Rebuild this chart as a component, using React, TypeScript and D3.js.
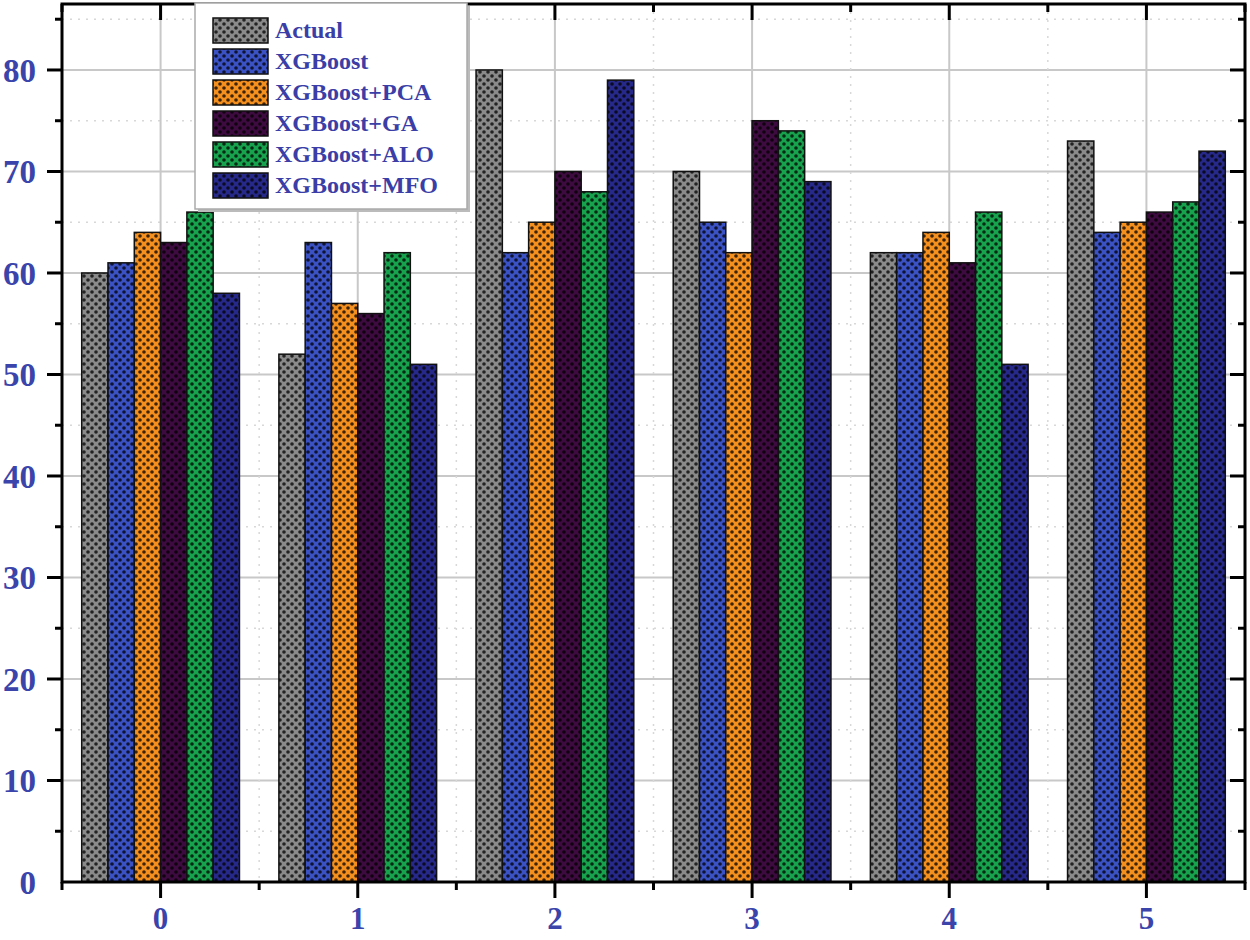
import React, { useEffect, useRef } from "react"
import * as d3 from "d3"

const categories = ["0", "1", "2", "3", "4", "5"]
const seriesNames = ["Actual", "XGBoost", "XGBoost+PCA", "XGBoost+GA", "XGBoost+ALO", "XGBoost+MFO"]
const actual = [60, 52, 80, 70, 62, 73]
const xgboost = [61, 63, 62, 65, 62, 64]
const xgbPca = [64, 57, 65, 62, 64, 65]
const xgbGa = [63, 56, 70, 75, 61, 66]
const xgbAlo = [66, 62, 68, 74, 66, 67]
const xgbMfo = [58, 51, 79, 69, 51, 72]
const seriesValues = [actual, xgboost, xgbPca, xgbGa, xgbAlo, xgbMfo]
const colors = ["#8a8a8a", "#3b52c4", "#f5901f", "#3d0b3f", "#17a24d", "#27298a"]
const yTicks = [0, 10, 20, 30, 40, 50, 60, 70, 80]

const App: React.FC = () => {
	const ref = useRef<SVGSVGElement>(null)
	const width = 1250
	const height = 940
	const margin = { top: 4, right: 5, bottom: 58, left: 62 }

	useEffect(() => {
		const svg = d3.select(ref.current)
		svg.selectAll("*").remove()

		const left = margin.left
		const right = width - margin.right
		const top = margin.top
		const bottom = height - margin.bottom

		const x = d3.scaleLinear().domain([-0.5, 5.5]).range([left, right])
		const y = d3.scaleLinear().domain([0, 86.5]).range([bottom, top])
		const inner = d3
			.scaleBand()
			.domain(seriesNames)
			.range([-0.4, 0.4])

		const defs = svg.append("defs")
		colors.forEach((c, i) => {
			const p = defs
				.append("pattern")
				.attr("id", "pat" + i)
				.attr("width", 8)
				.attr("height", 8)
				.attr("patternUnits", "userSpaceOnUse")
			p.append("rect").attr("width", 8).attr("height", 8).attr("fill", c)
			;[[0, 0], [8, 0], [0, 8], [8, 8], [4, 4]].forEach(([cx, cy]) => {
				p.append("circle").attr("cx", cx).attr("cy", cy).attr("r", 1.8)
					.attr("fill", "#000").attr("opacity", 0.75)
			})
		})

		// grid
		const g = svg.append("g")
		d3.range(5, 86, 10).forEach((v) => {
			g.append("line")
				.attr("x1", left).attr("x2", right)
				.attr("y1", y(v)).attr("y2", y(v))
				.attr("stroke", "#d8d8d8").attr("stroke-width", 1.5)
				.attr("stroke-dasharray", "2,6")
		})
		yTicks.slice(1).forEach((v) => {
			g.append("line")
				.attr("x1", left).attr("x2", right)
				.attr("y1", y(v)).attr("y2", y(v))
				.attr("stroke", "#c8c8c8").attr("stroke-width", 2)
		})
		categories.forEach((c, i) => {
			g.append("line")
				.attr("x1", x(i)).attr("x2", x(i))
				.attr("y1", top).attr("y2", bottom)
				.attr("stroke", "#c8c8c8").attr("stroke-width", 2)
			if (i < categories.length - 1) {
				g.append("line")
					.attr("x1", x(i + 0.5)).attr("x2", x(i + 0.5))
					.attr("y1", top).attr("y2", bottom)
					.attr("stroke", "#d8d8d8").attr("stroke-width", 1.5)
					.attr("stroke-dasharray", "2,6")
			}
		})

		// bars
		seriesValues.forEach((vals, s) => {
			svg.append("g")
				.selectAll("rect")
				.data(vals)
				.join("rect")
				.attr("x", (d, i) => x(i + (inner(seriesNames[s]) as number)))
				.attr("width", x(inner.bandwidth()) - x(0))
				.attr("y", (d) => y(d))
				.attr("height", (d) => bottom - y(d))
				.attr("fill", `url(#pat${s})`)
				.attr("stroke", "#111")
				.attr("stroke-width", 1.5)
		})

		// frame + ticks
		const ax = svg.append("g").attr("stroke", "#000")
		ax.append("rect")
			.attr("x", left).attr("y", top)
			.attr("width", right - left).attr("height", bottom - top)
			.attr("fill", "none").attr("stroke-width", 3)
		d3.range(5, 86, 5).forEach((v) => {
			const major = v % 10 === 0
			const len = major ? 15 : 7
			ax.append("line").attr("x1", left - len).attr("x2", left)
				.attr("y1", y(v)).attr("y2", y(v)).attr("stroke-width", 3)
			ax.append("line").attr("x1", right).attr("x2", right - len)
				.attr("y1", y(v)).attr("y2", y(v)).attr("stroke-width", 3)
		})
		d3.range(-0.5, 5.51, 0.5).forEach((v) => {
			const major = Math.abs(v - Math.round(v)) < 0.01
			const len = major ? 16 : 8
			ax.append("line").attr("x1", x(v)).attr("x2", x(v))
				.attr("y1", bottom).attr("y2", bottom + len).attr("stroke-width", 3)
			ax.append("line").attr("x1", x(v)).attr("x2", x(v))
				.attr("y1", top).attr("y2", top + len).attr("stroke-width", 3)
		})

		// labels
		const lab = svg.append("g")
			.attr("font-family", "'Liberation Serif', 'Times New Roman', serif")
			.attr("font-weight", "bold")
			.attr("font-size", 33)
			.attr("fill", "#3a44aa")
		yTicks.forEach((v) => {
			lab.append("text")
				.attr("x", 36).attr("y", y(v))
				.attr("dy", "0.35em")
				.attr("text-anchor", "end")
				.text(v)
		})
		categories.forEach((c, i) => {
			lab.append("text")
				.attr("x", x(i)).attr("y", 929)
				.attr("font-size", 31)
				.attr("text-anchor", "middle")
				.text(c)
		})

		// legend
		const leg = svg.append("g")
		leg.append("rect")
			.attr("x", 198).attr("y", 6).attr("width", 272).attr("height", 206)
			.attr("fill", "#bbb")
		leg.append("rect")
			.attr("x", 195).attr("y", 3).attr("width", 272).attr("height", 206)
			.attr("fill", "#fff").attr("stroke", "#aaa").attr("stroke-width", 1.5)
		seriesNames.forEach((n, i) => {
			const cy = 30 + i * 31
			leg.append("rect")
				.attr("x", 213).attr("y", cy - 12).attr("width", 55).attr("height", 25)
				.attr("fill", `url(#pat${i})`).attr("stroke", "#111").attr("stroke-width", 1.5)
			leg.append("text")
				.attr("x", 275).attr("y", cy)
				.attr("dy", "0.33em")
				.attr("font-family", "'Liberation Serif', 'Times New Roman', serif")
				.attr("font-weight", "bold")
				.attr("font-size", 24)
				.attr("fill", "#3a3ea6")
				.text(n)
		})
	}, [])

	return (
		<svg
			ref={ref}
			width={width}
			height={height}
			style={{ position: "absolute", left: 0, top: 0, background: "#fff" }}
		/>
	)
}

export default App
